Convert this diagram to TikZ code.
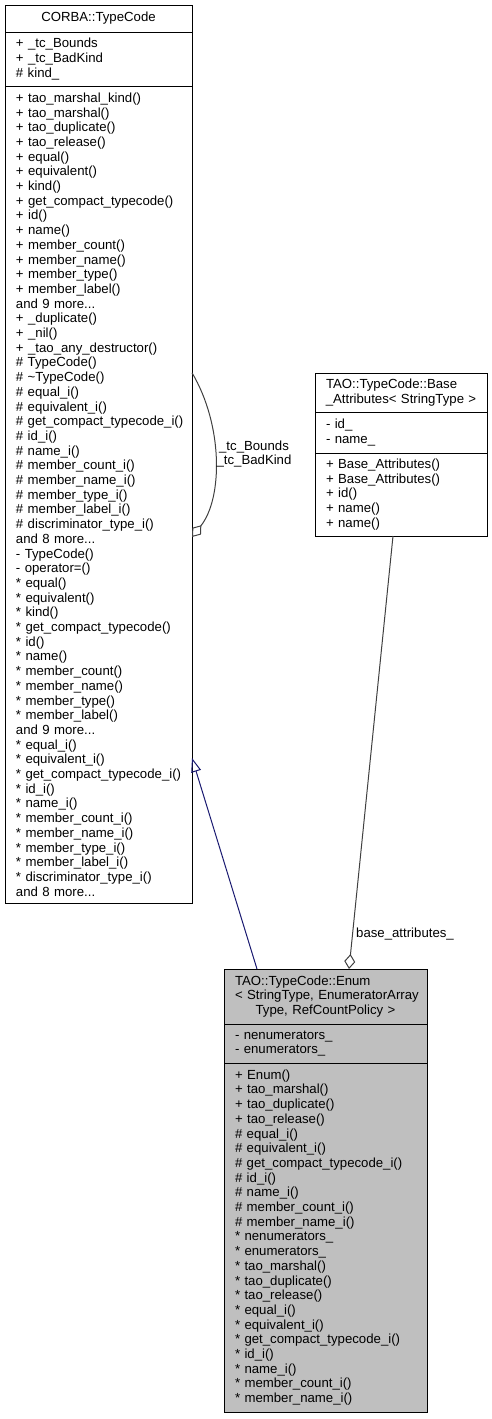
\documentclass[tikz,border=0pt]{standalone}
\usepackage{fontspec}
\setmainfont{Liberation Sans}
\usepackage{tikz}
\usetikzlibrary{positioning}
\usetikzlibrary{calc}
\usetikzlibrary{arrows.meta}
\definecolor{midnight}{HTML}{191970}
\definecolor{edgegray}{HTML}{404040}
\hyphenpenalty=10000
\exhyphenpenalty=10000

\begin{document}
\begin{tikzpicture}[x=1pt, y=-1pt,
  part/.style={draw=black, line width=1pt, outer sep=0pt, inner xsep=11pt, inner ysep=2pt, align=left, font=\fontsize{13.2}{14.7}\selectfont},
  cur/.style={part, fill=black!25},
  inherit/.style={draw=midnight, line width=1pt, -{Triangle[open, length=14pt, width=10pt]}},
  aggr/.style={draw=edgegray, line width=1pt, -{Diamond[open, length=15pt, width=11pt]}},
  lbl/.style={align=center, inner sep=0pt, font=\fontsize{13.2}{14.7}\selectfont}]
\useasboundingbox (0,0) rectangle (492,1419);
% CORBA::TypeCode
\node[part, anchor=north west, text width=165pt, minimum height=27pt, align=center] (tct) at (5,5) {CORBA::TypeCode};
\node[part, below=0pt of tct, text width=165pt, minimum height=54pt] (tca) {+ \_tc\_Bounds\\+ \_tc\_BadKind\\\# kind\_};
\node[part, below=0pt of tca, text width=165pt, minimum height=817pt] (tcm) {+ tao\_marshal\_kind()\\+ tao\_marshal()\\+ tao\_duplicate()\\+ tao\_release()\\+ equal()\\+ equivalent()\\+ kind()\\+ get\_compact\_typecode()\\+ id()\\+ name()\\+ member\_count()\\+ member\_name()\\+ member\_type()\\+ member\_label()\\and 9 more...\\+ \_duplicate()\\+ \_nil()\\+ \_tao\_any\_destructor()\\\# TypeCode()\\\# \textasciitilde TypeCode()\\\# equal\_i()\\\# equivalent\_i()\\\mbox{\# get\_compact\_typecode\_i()}\\\# id\_i()\\\# name\_i()\\\# member\_count\_i()\\\# member\_name\_i()\\\# member\_type\_i()\\\# member\_label\_i()\\\# discriminator\_type\_i()\\and 8 more...\\- TypeCode()\\- operator=()\\{}* equal()\\{}* equivalent()\\{}* kind()\\{}* get\_compact\_typecode()\\{}* id()\\{}* name()\\{}* member\_count()\\{}* member\_name()\\{}* member\_type()\\{}* member\_label()\\and 9 more...\\{}* equal\_i()\\{}* equivalent\_i()\\\mbox{* get\_compact\_typecode\_i()}\\{}* id\_i()\\{}* name\_i()\\{}* member\_count\_i()\\{}* member\_name\_i()\\{}* member\_type\_i()\\{}* member\_label\_i()\\{}* discriminator\_type\_i()\\and 8 more...};
% TAO::TypeCode::Base_Attributes
\node[part, anchor=north west, text width=150pt, minimum height=39pt] (bat) at (315,373) {TAO::TypeCode::Base\\\makebox[\linewidth]{\_Attributes< StringType >}};
\node[part, below=0pt of bat, text width=150pt, minimum height=41pt] (baa) {- id\_\\- name\_};
\node[part, below=0pt of baa, text width=150pt, minimum height=83pt] (bam) {+ Base\_Attributes()\\+ Base\_Attributes()\\+ id()\\+ name()\\+ name()};
% TAO::TypeCode::Enum
\node[cur, anchor=north west, text width=181pt, minimum height=55pt] (ent) at (224,969) {TAO::TypeCode::Enum\\\mbox{< StringType, EnumeratorArray}\\\makebox[\linewidth]{Type, RefCountPolicy >}};
\node[cur, below=0pt of ent, text width=181pt, minimum height=39pt] (ena) {- nenumerators\_\\- enumerators\_};
\node[cur, below=0pt of ena, text width=181pt, minimum height=349pt] (enm) {+ Enum()\\+ tao\_marshal()\\+ tao\_duplicate()\\+ tao\_release()\\\# equal\_i()\\\# equivalent\_i()\\\mbox{\# get\_compact\_typecode\_i()}\\\# id\_i()\\\# name\_i()\\\# member\_count\_i()\\\# member\_name\_i()\\{}* nenumerators\_\\{}* enumerators\_\\{}* tao\_marshal()\\{}* tao\_duplicate()\\{}* tao\_release()\\{}* equal\_i()\\{}* equivalent\_i()\\\mbox{* get\_compact\_typecode\_i()}\\{}* id\_i()\\{}* name\_i()\\{}* member\_count\_i()\\{}* member\_name\_i()};
% edges
\draw[inherit] ([xshift=-68.5pt]ent.north) -- ($(tcm.north east)!0.8225!(tcm.south east)$);
\draw[aggr] ($(tcm.north east)!0.351!(tcm.south east)$) .. controls +(31,52) and +(31,-39) .. ($(tcm.north east)!0.552!(tcm.south east)$);
\node[lbl] (lblloop) at (254,454) {\_tc\_Bounds\\\_tc\_BadKind};
\draw[aggr] ([xshift=-8pt]bam.south) -- ([xshift=23.5pt]ent.north);
\node[lbl] (lblbase) at (405,934) {base\_attributes\_};
\end{tikzpicture}
\end{document}
